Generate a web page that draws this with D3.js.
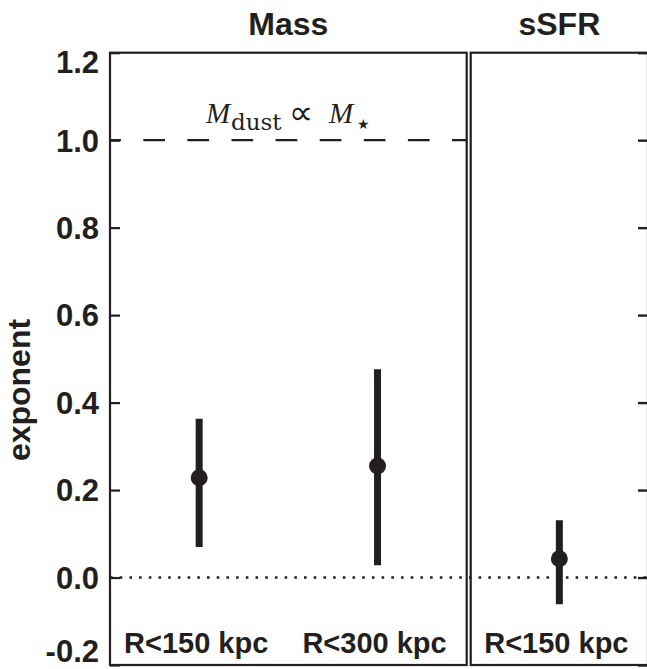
<!DOCTYPE html>
<html><head><meta charset="utf-8">
<script src="https://cdn.jsdelivr.net/npm/d3@7"></script>
<style>body{margin:0;background:#fff}</style>
</head><body><svg id="c" width="647" height="669"></svg>
<script>
const panelTitles = ["Mass", "sSFR"];
const massCats = ["R<150 kpc", "R<300 kpc"];
const massValues = [0.228, 0.255];
const massLow = [0.070, 0.028];
const massHigh = [0.363, 0.476];
const ssfrCats = ["R<150 kpc"];
const ssfrValues = [0.043];
const ssfrLow = [-0.061];
const ssfrHigh = [0.131];
const yTicks = [-0.2, 0.0, 0.2, 0.4, 0.6, 0.8, 1.0, 1.2];
const yTickLabels = ["-0.2", "0.0", "0.2", "0.4", "0.6", "0.8", "1.0", "1.2"];
const yLabel = "exponent";
const dashedRef = 1.0;
const dottedRef = 0.0;

const ink = "#231f20";
const svg = d3.select("#c");
const plotTop = 52.7, plotBottom = 665;
const y = d3.scaleLinear().domain([-0.2, 1.2]).range([plotBottom, plotTop]);

const panels = [
  {title: panelTitles[0], x0: 110, x1: 466.7, cats: massCats, v: massValues, lo: massLow, hi: massHigh, side: "left"},
  {title: panelTitles[1], x0: 470.7, x1: 648, cats: ssfrCats, v: ssfrValues, lo: ssfrLow, hi: ssfrHigh, side: "right"}
];

// reference lines
svg.append("line")
  .attr("x1", panels[0].x0).attr("x2", panels[1].x1)
  .attr("y1", y(dottedRef)).attr("y2", y(dottedRef))
  .attr("stroke", ink).attr("stroke-width", 2.6)
  .attr("stroke-dasharray", "2.6,7.1");
svg.append("line")
  .attr("x1", panels[0].x0).attr("x2", panels[0].x1)
  .attr("y1", y(dashedRef)).attr("y2", y(dashedRef))
  .attr("stroke", ink).attr("stroke-width", 2.2)
  .attr("stroke-dasharray", "21.7,22.4").attr("stroke-dashoffset", 10.8);

panels.forEach(p => {
  const x = d3.scalePoint().domain(p.cats).range([p.x0, p.x1]).padding(0.5);
  const g = svg.append("g");
  g.append("rect").attr("x", p.x0).attr("y", plotTop)
    .attr("width", p.x1 - p.x0).attr("height", plotBottom - plotTop)
    .attr("fill", "none").attr("stroke", ink).attr("stroke-width", 2.2);

  if (p.side === "left") {
    const ax = g.append("g").attr("transform", `translate(${p.x0},0)`)
      .call(d3.axisLeft(y).tickValues(yTicks).tickSize(-10).tickPadding(11)
        .tickFormat((d, i) => yTickLabels[i]));
    ax.select(".domain").remove();
    ax.selectAll(".tick line").attr("stroke", ink).attr("stroke-width", 2.2);
    ax.selectAll(".tick text")
      .attr("fill", ink)
      .style("font-family", "'Liberation Sans', Arial, sans-serif")
      .style("font-weight", "bold").style("font-size", "31px")
      .attr("dy", (d, i) => i === yTicks.length - 1 ? "0.65em" : i === 0 ? "-0.1em" : "0.35em");
  } else {
    const ax = g.append("g").attr("transform", `translate(${p.x1},0)`)
      .call(d3.axisRight(y).tickValues(yTicks).tickSize(-10).tickFormat(""));
    ax.select(".domain").remove();
    ax.selectAll(".tick line").attr("stroke", ink).attr("stroke-width", 2.4);
  }

  g.append("text").text(p.title)
    .attr("x", (p.x0 + p.x1) / 2).attr("y", 35)
    .attr("text-anchor", "middle").attr("fill", ink)
    .style("font-family", "'Liberation Sans', Arial, sans-serif")
    .style("font-weight", "bold").style("font-size", "32px");

  g.selectAll(".err").data(p.cats).enter().append("line")
    .attr("x1", d => x(d)).attr("x2", d => x(d))
    .attr("y1", (d, i) => y(p.lo[i])).attr("y2", (d, i) => y(p.hi[i]))
    .attr("stroke", ink).attr("stroke-width", 7);
  g.selectAll(".pt").data(p.cats).enter().append("circle")
    .attr("cx", d => x(d)).attr("cy", (d, i) => y(p.v[i]))
    .attr("r", 8.5).attr("fill", ink);
  g.selectAll(".lab").data(p.cats).enter().append("text")
    .text(d => d)
    .attr("x", d => x(d) - 3).attr("y", 653)
    .attr("text-anchor", "middle").attr("fill", ink)
    .style("font-family", "'Liberation Sans', Arial, sans-serif")
    .style("font-weight", "bold").style("font-size", "29px");
});

// y label
svg.append("text").text(yLabel)
  .attr("transform", "translate(30,390) rotate(-90)")
  .attr("text-anchor", "middle").attr("fill", ink)
  .style("font-family", "'Liberation Sans', Arial, sans-serif")
  .style("font-weight", "bold").style("font-size", "32px");

// math annotation: M_dust ∝ M_⋆
const mg = svg.append("g").attr("fill", ink);
mg.append("text").text("M").attr("x", 206).attr("y", 123)
  .style("font-family", "'Liberation Serif', serif").style("font-style", "italic").style("font-size", "29px");
mg.append("text").text("dust").attr("x", 231).attr("y", 130)
  .style("font-family", "'DejaVu Serif', serif").style("font-size", "23px");
mg.append("text").text("∝").attr("x", 301).attr("y", 124).attr("text-anchor", "middle")
  .style("font-family", "'DejaVu Sans', sans-serif").style("font-size", "34px");
mg.append("text").text("M").attr("x", 329).attr("y", 123)
  .style("font-family", "'Liberation Serif', serif").style("font-style", "italic").style("font-size", "29px");
mg.append("text").text("★").attr("x", 357).attr("y", 129)
  .style("font-family", "'DejaVu Sans', sans-serif").style("font-size", "14px");
</script>
</body></html>
